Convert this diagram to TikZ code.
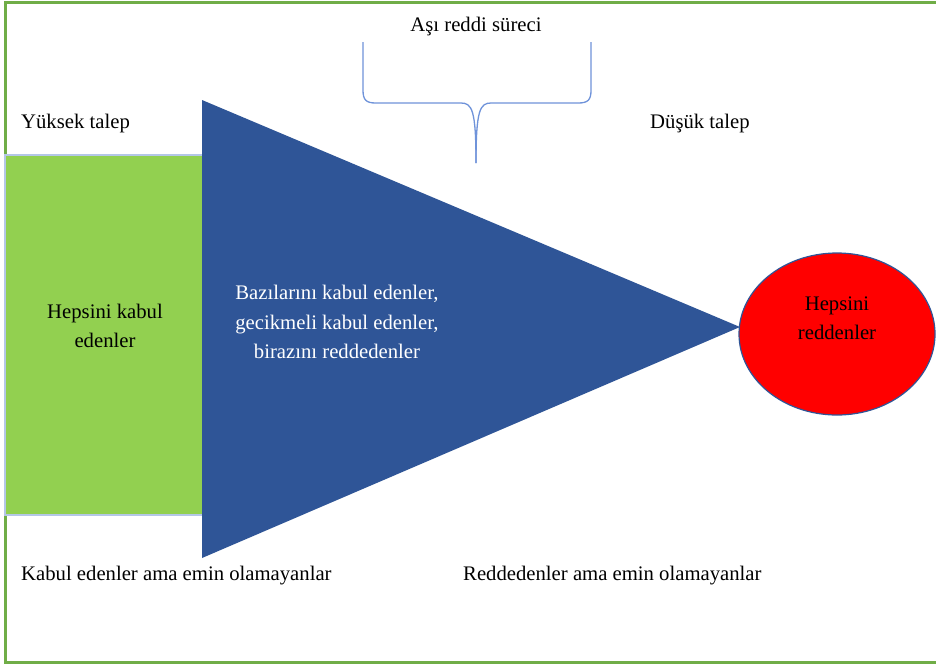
\documentclass[tikz,border=0pt]{standalone}
\usepackage{fontspec}
\setmainfont{Liberation Serif}
\definecolor{frameg}{HTML}{70AD47}
\definecolor{boxg}{HTML}{92D050}
\definecolor{tri}{HTML}{2F5597}
\definecolor{brc}{HTML}{6F93DA}
\definecolor{boxedge}{HTML}{B4C7E7}
\tikzset{
  lbl/.style={font=\fontsize{20.7}{29.5}\selectfont, text=black, inner sep=0pt},
  inlbl/.style={lbl, align=center},
}
\begin{document}
\begin{tikzpicture}[x=1pt,y=-1pt]
\useasboundingbox (0,0) rectangle (936,664);
\fill[white] (0,0) rectangle (936,664);
% frame
\draw[frameg, line width=3pt] (960,2) -- (5,2) -- (5,662) -- (960,662);
% green box
\draw[boxedge, fill=boxg, line width=1.2pt] (5,155) rectangle (206,515);
\node[inlbl] (acc) at (105,326) {Hepsini kabul\\edenler};
% triangle
\fill[tri] (202,100) -- (740,327) -- (202,558) -- cycle;
\node[inlbl, text=white] (mid) at (337,322) {Bazılarını kabul edenler,\\gecikmeli kabul edenler,\\birazını reddedenler};
% ellipse
\draw[tri, fill=red, line width=1.2pt] (837,334) ellipse [x radius=98, y radius=81];
\node[inlbl] (rej) at (837,318) {Hepsini\\reddenler};
% brace
\draw[brc, line width=1.3pt] (363,42) -- (363,90) .. controls (363,100) and (366,103) .. (376,103)
  -- (461,103) .. controls (472,103) and (476,110) .. (476,163);
\draw[brc, line width=1.3pt] (591,42) -- (591,90) .. controls (591,100) and (588,103) .. (578,103)
  -- (491,103) .. controls (480,103) and (476,110) .. (476,163);
\node[lbl] (proc) at (476,27) {Aşı reddi süreci};
% corner labels
\node[lbl, anchor=west] (hi) at (21,124) {Yüksek talep};
\node[lbl, anchor=west] (lo) at (650,124) {Düşük talep};
\node[lbl, anchor=west] (ua) at (21,576) {Kabul edenler ama emin olamayanlar};
\node[lbl, anchor=west] (ur) at (463,576) {Reddedenler ama emin olamayanlar};
\end{tikzpicture}
\end{document}
